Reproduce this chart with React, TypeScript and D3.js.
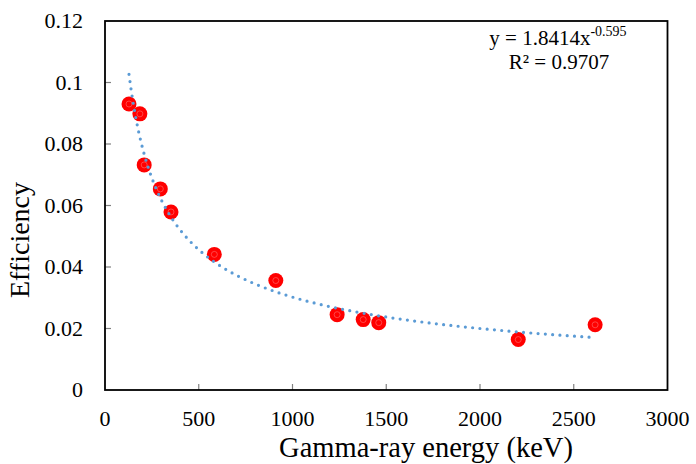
import React from "react";
import * as d3 from "d3";

const energies = [128, 186, 209, 295, 352, 583, 911, 1238, 1377, 1460, 2204, 2614];
const efficiencies = [0.093, 0.0898, 0.0732, 0.0654, 0.0579, 0.0441, 0.0356, 0.0245, 0.0229, 0.0219, 0.0164, 0.0212];
const xTicks = [0, 500, 1000, 1500, 2000, 2500, 3000];
const yTicks = [0, 0.02, 0.04, 0.06, 0.08, 0.1, 0.12];
const yTickLabels = ["0", "0.02", "0.04", "0.06", "0.08", "0.1", "0.12"];
const fitA = 1.8414;
const fitB = -0.595;
const eqLine1 = "y = 1.8414x";
const eqSup = "-0.595";
const eqLine2 = "R² = 0.9707";
const xTitle = "Gamma-ray energy (keV)";
const yTitle = "Efficiency";

const FONT = "Liberation Serif";

export default function App() {
  const W = 696, H = 464;
  const L = 105, R = 667.5, T = 21, B = 390;
  const x = d3.scaleLinear().domain([0, 3000]).range([L, R]);
  const y = d3.scaleLinear().domain([0, 0.12]).range([B, T]);
  const ts = { fontFamily: FONT };

  const xmin = d3.min(energies) as number;
  const xmax = d3.max(energies) as number;
  const fitX = d3.range(0, 201).map((i) => xmin + ((xmax - xmin) * i) / 200);
  const line = d3
    .line<number>()
    .x((d) => x(d))
    .y((d) => y(fitA * Math.pow(d, fitB)));

  return (
    <svg width={W} height={H} style={{ position: "absolute", left: 0, top: 0, background: "#fff", fontFamily: FONT }}>
      <rect x={0} y={0} width={W} height={H} fill="#fff" />
      {xTicks.slice(1, -1).map((t) => (
        <line key={"xt" + t} x1={x(t)} x2={x(t)} y1={B} y2={B - 6} stroke="#808080" strokeWidth={1.2} />
      ))}
      {yTicks.slice(1, -1).map((t) => (
        <line key={"yt" + t} x1={L} x2={L + 6} y1={y(t)} y2={y(t)} stroke="#808080" strokeWidth={1.2} />
      ))}
      <rect x={L} y={T} width={R - L} height={B - T} fill="none" stroke="#000" strokeWidth={1.8} />
      {energies.map((e, i) => (
        <g key={"p" + i}>
          <circle cx={x(e)} cy={y(efficiencies[i])} r={7.5} fill="#ff0000" />
          <circle cx={x(e)} cy={y(efficiencies[i])} r={3} fill="none" stroke="#ff7070" strokeWidth={0.6} />
        </g>
      ))}
      <path
        d={line(fitX) || ""}
        fill="none"
        stroke="#5b9bd5"
        strokeWidth={3.2}
        strokeLinecap="round"
        strokeDasharray="0 7.3"
      />
      {xTicks.map((t) => (
        <text key={"xl" + t} style={ts} x={x(t)} y={426} textAnchor="middle" fontSize={22} fill="#000">
          {t}
        </text>
      ))}
      {yTicks.map((t, i) => (
        <text key={"yl" + t} style={ts} x={83} y={y(t)} dy="0.34em" textAnchor="end" fontSize={22} fill="#000">
          {yTickLabels[i]}
        </text>
      ))}
      <text style={ts} x={426} y={457} textAnchor="middle" fontSize={28.5} fill="#000">
        {xTitle}
      </text>
      <text style={ts} transform="translate(29,240) rotate(-90)" textAnchor="middle" fontSize={28} fill="#000">
        {yTitle}
      </text>
      <text style={ts} x={558} y={45} textAnchor="middle" fontSize={21} fill="#000">
        {eqLine1}
        <tspan fontSize={14} dy={-9}>
          {eqSup}
        </tspan>
      </text>
      <text style={ts} x={559} y={69} textAnchor="middle" fontSize={21} fill="#000">
        {eqLine2}
      </text>
    </svg>
  );
}
